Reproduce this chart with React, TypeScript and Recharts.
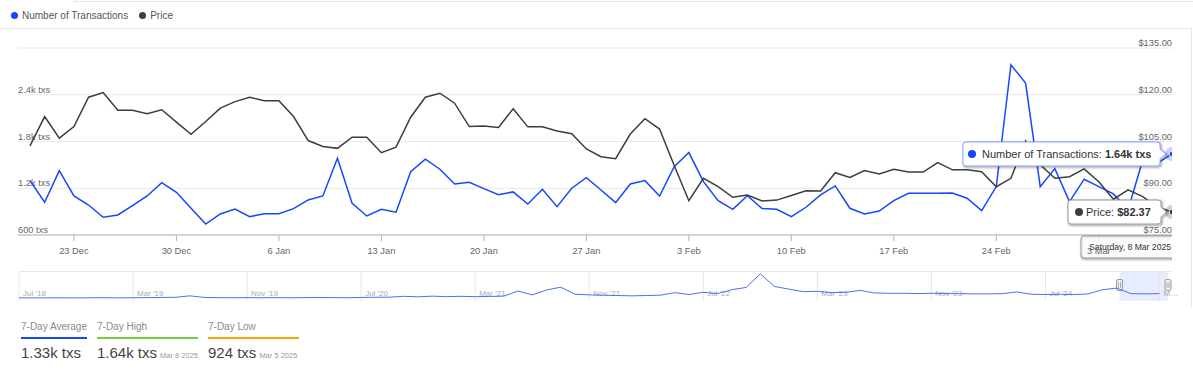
import React from 'react';
import { LineChart, Line, XAxis, YAxis, CartesianGrid, ReferenceLine, ReferenceArea } from 'recharts';

const FONT = '"Liberation Sans", Arial, Helvetica, sans-serif';
const BLUE = '#1746ff';
const GRAY = '#3d3d3d';

// ---------- data ----------
const START_DATE = '2024-12-20';
const transactions = [
  1298, 1020, 1426, 1101, 985, 827, 857, 977, 1101, 1272,
  1148, 943, 741, 870, 934, 835, 874, 874, 938, 1050,
  1101, 1586, 1007, 844, 930, 892, 1413, 1573, 1444, 1255,
  1277, 1195, 1118, 1153, 998, 1187, 964, 1200, 1336, 1178,
  1015, 1255, 1298, 1101, 1478, 1658, 1285, 1041, 930, 1105,
  940, 930, 835, 956, 1114, 1230, 943, 870, 908, 1041,
  1136, 1136, 1136, 1140, 1072, 912, 1221, 2785, 2549, 1221,
  1452, 1028, 1316, 1221, 1127, 924, 1560, 1520, 1640,
];
const prices = [
  103.6, 113.0, 106.1, 109.8, 119.2, 120.7, 115.0, 115.0, 113.9, 115.2,
  111.2, 107.3, 111.4, 115.7, 117.8, 119.2, 118.1, 118.1, 113.0, 105.3,
  103.4, 102.8, 106.4, 106.4, 101.4, 103.2, 112.8, 119.2, 120.5, 117.3,
  109.8, 110.0, 109.5, 115.5, 109.7, 109.7, 108.4, 107.5, 102.6, 100.1,
  99.5, 107.4, 112.3, 109.0, 97.3, 86.0, 93.2, 90.5, 87.1, 87.8,
  85.9, 86.2, 87.7, 89.2, 89.1, 95.0, 93.5, 95.7, 94.6, 96.1,
  95.2, 95.2, 98.2, 95.9, 95.9, 95.3, 90.5, 93.2, 105.2, 97.5,
  93.2, 93.7, 96.2, 92.1, 86.5, 89.5, 87.3, 84.0, 82.37,
];
const xTickDays = [3, 10, 17, 24, 31, 38, 45, 52, 59, 66, 73];
const txTicks = [600, 1200, 1800, 2400, 3000];
const priceTicks = [75, 90, 105, 120, 135];

const navValues = [
  1000, 950, 980, 1000, 950, 1000, 1020, 980, 1000, 1050,
  1100, 1150, 1600, 1100, 1050, 1000, 1050, 1000, 1050, 1000,
  1050, 1100, 1050, 1000, 1100, 1150, 1200, 1450, 1300, 1500,
  1350, 1450, 1350, 1400, 1500, 3100, 1900, 3400, 4300, 2100,
  1900, 1800, 1700, 1600, 1700, 1800, 2600, 2000, 2700, 2300,
  3500, 4200, 8400, 4500, 3700, 2900, 3000, 2600, 2700, 3300,
  2500, 2400, 2400, 2300, 2400, 2300, 2300, 2200, 2200, 2300,
  2800, 2100, 2000, 2100, 2000, 2200, 3500, 4000, 2300, 2200, 2300,
];
const navLabelMonths = [0, 8, 16, 24, 32, 40, 48, 56, 64, 72, 80];
const navLabels = ["Jul '18", "Mar '19", "Nov '19", "Jul '20", "Mar '21", "Nov '21", "Jul '22", "Mar '23", "Nov '23", "Jul '24", 'M…'];

const statLabels = ['7-Day Average', '7-Day High', '7-Day Low'];
const statValues = ['1.33k txs', '1.64k txs', '924 txs'];
const statDates = ['', 'Mar 8 2025', 'Mar 5 2025'];
const statColors = [BLUE, '#7ac943', '#f5a800'];

// ---------- helpers ----------
const MONTHS = ['Jan', 'Feb', 'Mar', 'Apr', 'May', 'Jun', 'Jul', 'Aug', 'Sep', 'Oct', 'Nov', 'Dec'];
const DAYS = ['Sunday', 'Monday', 'Tuesday', 'Wednesday', 'Thursday', 'Friday', 'Saturday'];
const dayDate = (i: number) => {
  const d = new Date(START_DATE + 'T00:00:00Z');
  d.setUTCDate(d.getUTCDate() + i);
  return d;
};
const shortDate = (i: number) => {
  const d = dayDate(i);
  return `${d.getUTCDate()} ${MONTHS[d.getUTCMonth()]}`;
};
const longDate = (i: number) => {
  const d = dayDate(i);
  return `${DAYS[d.getUTCDay()]}, ${d.getUTCDate()} ${MONTHS[d.getUTCMonth()]} ${d.getUTCFullYear()}`;
};
const fmtTx = (v: number) => (v < 1000 ? `${Math.round(v)} txs` : `${(v / 1000).toFixed(2).replace(/0$/, '')}k txs`);
const fmtTxAxis = (v: number) => (v < 1000 ? `${v} txs` : `${(v / 1000).toFixed(1)}k txs`);

const data = transactions.map((tx, i) => ({ i, tx, price: prices[i] }));
const navData = navValues.map((v, m) => ({ m, v }));
const LAST = data.length - 1;

function calloutRight(x: number, y: number, w: number, h: number, r: number, tipX: number, tipY: number) {
  return `M${x + r},${y} H${x + w - r} Q${x + w},${y} ${x + w},${y + r} V${tipY - 5} L${tipX},${tipY} L${x + w},${tipY + 5} V${y + h - r} Q${x + w},${y + h} ${x + w - r},${y + h} H${x + r} Q${x},${y + h} ${x},${y + h - r} V${y + r} Q${x},${y} ${x + r},${y} Z`;
}
function calloutTopRight(x: number, y: number, w: number, h: number, r: number, tipX: number, tipY: number) {
  return `M${x + r},${y} H${x + w - 8} L${tipX},${tipY} L${x + w},${y + 6} V${y + h - r} Q${x + w},${y + h} ${x + w - r},${y + h} H${x + r} Q${x},${y + h} ${x},${y + h - r} V${y + r} Q${x},${y} ${x + r},${y} Z`;
}

const Shadowed = ({ d, stroke, fill }: { d: string; stroke: string; fill: string }) => (
  <g>
    <path d={d} transform="translate(1,1)" fill="none" stroke="#000" strokeOpacity={0.05} strokeWidth={5} />
    <path d={d} transform="translate(1,1)" fill="none" stroke="#000" strokeOpacity={0.1} strokeWidth={3} />
    <path d={d} transform="translate(1,1)" fill="none" stroke="#000" strokeOpacity={0.15} strokeWidth={1} />
    <path d={d} fill={fill} stroke={stroke} strokeWidth={1} />
  </g>
);

const TxTooltipDot = (p: any) => {
  if (p.index !== LAST) return <g key={`tx-${p.index}`} />;
  const { cx, cy } = p;
  const x = cx - 209;
  const y = cy - 12;
  return (
    <g key={`tx-${p.index}`} fontFamily={FONT}>
      <Shadowed d={calloutRight(x, y, 197, 24, 3, cx - 6, cy)} stroke="#8aa2ff" fill="#ffffff" />
      <circle cx={cx - 200} cy={cy} r={4} fill={BLUE} />
      <text x={cx - 190} y={cy + 4} fontSize={11} fill="#333">
        Number of Transactions: <tspan fontWeight="bold">{fmtTx(p.payload.tx)}</tspan>
      </text>
      <circle cx={cx} cy={cy} r={7} fill={BLUE} fillOpacity={0.25} />
      <circle cx={cx} cy={cy} r={2.8} fill={BLUE} stroke="#fff" strokeWidth={0.8} />
    </g>
  );
};

const PriceTooltipDot = (p: any) => {
  if (p.index !== LAST) return <g key={`pr-${p.index}`} />;
  const { cx, cy } = p;
  const x = cx - 104;
  const y = cy - 12;
  return (
    <g key={`pr-${p.index}`} fontFamily={FONT}>
      <Shadowed d={calloutRight(x, y, 93, 24, 3, cx - 5, cy)} stroke="#9a9a9a" fill="#ffffff" />
      <circle cx={cx - 93} cy={cy} r={4} fill={GRAY} />
      <text x={cx - 86} y={cy + 4} fontSize={11} fill="#333">
        Price: <tspan fontWeight="bold">${p.payload.price.toFixed(2)}</tspan>
      </text>
      <circle cx={cx} cy={cy} r={7} fill={GRAY} fillOpacity={0.25} />
      <circle cx={cx} cy={cy} r={2.8} fill={GRAY} stroke="#fff" strokeWidth={0.8} />
    </g>
  );
};

const DateTooltipDot = (p: any) => {
  if (p.index !== LAST) return <g key={`dt-${p.index}`} />;
  const { cx, cy } = p;
  const x = cx - 91;
  const y = cy + 1;
  return (
    <g key={`dt-${p.index}`} fontFamily={FONT}>
      <Shadowed d={calloutTopRight(x, y, 98, 22, 3, cx + 3, cy - 2)} stroke="#9a9a9a" fill="rgba(250,250,250,0.8)" />
      <text x={x + 49} y={y + 14} fontSize={8.6} fill="#333" textAnchor="middle">
        {longDate(p.index)}
      </text>
    </g>
  );
};

// axis labels drawn as labels of invisible reference lines at the tick values
const AxisLabel = (p: any) => {
  const vb = p.viewBox || {};
  const left = p.side === 'left';
  return (
    <text
      x={left ? vb.x : vb.x + vb.width}
      y={vb.y - 2}
      fontSize={9.3}
      fill="#666"
      textAnchor={left ? 'start' : 'end'}
      fontFamily={FONT}
    >
      {p.text}
    </text>
  );
};

const NavLabel = (p: any) => {
  const vb = p.viewBox || {};
  return (
    <text x={vb.x + 4} y={vb.y + vb.height - 5} fontSize={8} fill="#aaa" fontFamily={FONT}>
      {p.text}
    </text>
  );
};

const Handle = ({ x, y }: { x: number; y: number }) => (
  <g>
    <rect x={x - 3} y={y - 5.5} width={6} height={11} rx={1.5} fill="#f2f2f2" stroke="#999" strokeWidth={1} />
    <line x1={x - 1} y1={y - 3} x2={x - 1} y2={y + 3} stroke="#999" strokeWidth={0.8} />
    <line x1={x + 1} y1={y - 3} x2={x + 1} y2={y + 3} stroke="#999" strokeWidth={0.8} />
  </g>
);

const SelShape = (p: any) => {
  const { x, y, width, height } = p;
  return (
    <g>
      <rect x={x} y={y} width={width} height={height} fill="#dfe7ff" fillOpacity={0.75} />
      <Handle x={x} y={y + 13} />
      <Handle x={x + width} y={y + 13} />
    </g>
  );
};

export default function App() {
  return (
    <div style={{ position: 'absolute', left: 0, top: 0, width: 1193, height: 374, background: '#fff', fontFamily: FONT, overflow: 'hidden' }}>
      {/* frame lines */}
      <div style={{ position: 'absolute', left: 74, top: 1, width: 1119, height: 1, background: '#e6e6e6' }} />
      <div style={{ position: 'absolute', left: 74, top: 0, width: 1, height: 2, background: '#e6e6e6' }} />
      <div style={{ position: 'absolute', left: 0, top: 28, width: 1191, height: 1, background: '#e8e8e8' }} />
      <div style={{ position: 'absolute', left: 1191, top: 28, width: 1, height: 280, background: '#e8e8e8' }} />

      {/* legend */}
      <div style={{ position: 'absolute', left: 11, top: 8, height: 14, display: 'flex', alignItems: 'center', fontSize: 10, color: '#555', whiteSpace: 'nowrap' }}>
        <span style={{ width: 7, height: 7, borderRadius: 4, background: BLUE, display: 'inline-block', marginRight: 4 }} />
        <span>Number of Transactions</span>
        <span style={{ width: 7, height: 7, borderRadius: 4, background: GRAY, display: 'inline-block', marginLeft: 11, marginRight: 4 }} />
        <span>Price</span>
      </div>

      {/* main chart */}
      <div style={{ position: 'absolute', left: 0, top: 0 }}>
        <LineChart width={1193} height={262} data={data} margin={{ top: 48, right: 21, bottom: 5, left: 18 }}>
          <CartesianGrid yAxisId="left" vertical={false} stroke="#e9e9e9" />
          <XAxis
            dataKey="i"
            type="number"
            domain={[-0.82, LAST]}
            allowDataOverflow
            ticks={xTickDays}
            interval={0}
            tickFormatter={(v: number) => shortDate(v)}
            height={22}
            axisLine={{ stroke: '#b3b3b3' }}
            tickLine={{ stroke: '#b3b3b3' }}
            tickSize={6}
            tickMargin={6}
            tick={{ fontSize: 9.3, fill: '#666', fontFamily: FONT }}
          />
          <YAxis yAxisId="left" domain={[txTicks[0], txTicks[txTicks.length - 1]]} ticks={txTicks} hide />
          <YAxis yAxisId="right" orientation="right" domain={[priceTicks[0], priceTicks[priceTicks.length - 1]]} ticks={priceTicks} hide />
          {txTicks.slice(0, -1).map((v) => (
            <ReferenceLine key={`l${v}`} yAxisId="left" y={v} stroke="none" label={<AxisLabel side="left" text={fmtTxAxis(v)} />} />
          ))}
          {priceTicks.map((v) => (
            <ReferenceLine key={`r${v}`} yAxisId="right" y={v} stroke="none" label={<AxisLabel side="right" text={`$${v.toFixed(2)}`} />} />
          ))}
          <Line yAxisId="left" dataKey="tx" stroke={BLUE} strokeWidth={1.5} dot={false} activeDot={false} isAnimationActive={false} />
          <Line yAxisId="right" dataKey="price" stroke={GRAY} strokeWidth={1.5} dot={false} activeDot={false} isAnimationActive={false} />
          <Line yAxisId="left" dataKey="tx" stroke="none" dot={TxTooltipDot} activeDot={false} isAnimationActive={false} />
          <Line yAxisId="right" dataKey="price" stroke="none" dot={PriceTooltipDot} activeDot={false} isAnimationActive={false} />
          <Line yAxisId="right" dataKey={() => priceTicks[0]} stroke="none" dot={DateTooltipDot} activeDot={false} isAnimationActive={false} />
        </LineChart>
      </div>

      {/* navigator */}
      <div style={{ position: 'absolute', left: 19, top: 271, width: 1153, height: 1, background: '#e6e6e6' }} />
      <div style={{ position: 'absolute', left: 0, top: 271 }}>
        <LineChart width={1193} height={30} data={navData} margin={{ top: 1, right: 25, bottom: 0, left: 19 }}>
          <XAxis dataKey="m" type="number" domain={[0, 80.6]} hide allowDataOverflow />
          <YAxis domain={[0, 9000]} hide allowDataOverflow />
          {navLabelMonths.map((m, k) => (
            <ReferenceLine key={m} x={m} stroke="#e6e6e6" label={<NavLabel text={navLabels[k]} />} />
          ))}
          <ReferenceArea x1={77.2} x2={80.6} shape={SelShape} />
          <Line dataKey="v" stroke="#4d6ff5" strokeWidth={1} dot={false} activeDot={false} isAnimationActive={false} />
        </LineChart>
      </div>

      {/* stats */}
      {statLabels.map((label, k) => {
        const lefts = [21, 97, 208];
        const widths = [66, 101, 91];
        return (
          <div key={label} style={{ position: 'absolute', left: lefts[k], top: 320, width: widths[k] }}>
            <div style={{ fontSize: 10, lineHeight: '14px', color: '#8a8a8a', whiteSpace: 'nowrap' }}>{label}</div>
            <div style={{ position: 'absolute', left: 0, top: 17, width: widths[k], height: 1.5, background: statColors[k] }} />
            <div style={{ position: 'absolute', left: 0, top: 24, fontSize: 15, lineHeight: '18px', color: '#444', whiteSpace: 'nowrap' }}>
              {statValues[k]}
              {statDates[k] ? <span style={{ fontSize: 7.5, color: '#999', marginLeft: 3 }}>{statDates[k]}</span> : null}
            </div>
          </div>
        );
      })}
    </div>
  );
}
